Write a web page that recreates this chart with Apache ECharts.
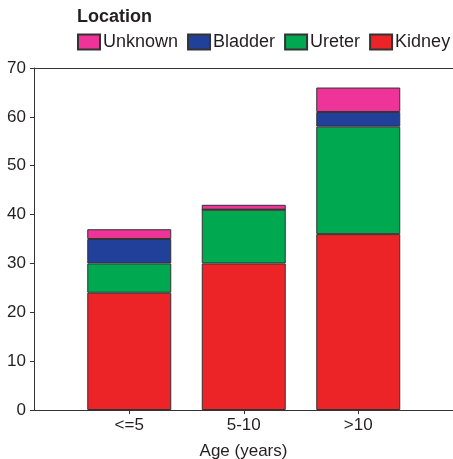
<!DOCTYPE html>
<html><head><meta charset="utf-8">
<script src="https://cdn.jsdelivr.net/npm/echarts@6/dist/echarts.min.js"></script>
<style>html,body{margin:0;padding:0;background:#fff}#c{width:453px;height:459px}</style>
</head><body><div id="c"></div>
<script>
const categories = ['<=5', '5-10', '>10'];
const kidney = [24, 30, 36];
const ureter = [6, 11, 22];
const bladder = [5, 0, 3];
const unknown = [2, 1, 5];
const yTicks = [0, 10, 20, 30, 40, 50, 60, 70];

const font = 'Liberation Sans, Arial, sans-serif';
const txt = '#231f20';
const lineC = '#333';
function mk(name, vals, color) {
  return {
    name, type: 'bar', stack: 'a', barWidth: 84,
    xAxisIndex: 2, yAxisIndex: 1,
    data: vals,
    itemStyle: { color, borderColor: '#333', borderWidth: 1 }
  };
}
const chart = echarts.init(document.getElementById('c'));
chart.setOption({
  animation: false,
  title: { text: 'Location', left: 77, top: 8, padding: 0, textStyle: { fontFamily: font, fontSize: 18, fontWeight: 'bold', color: txt } },
  legend: {
    data: ['Unknown', 'Bladder', 'Ureter', 'Kidney'],
    left: 77, top: 33, padding: 0, width: 600, icon: 'rect', itemWidth: 22, itemHeight: 15, itemGap: 9,
    textStyle: { fontFamily: font, fontSize: 18, color: txt, padding: [0, 0, 0, -2] }
  },
  grid: [
    { left: 34, right: 0, top: 68, bottom: 49, containLabel: false, outerBoundsMode: 'none' },
    { left: 72, width: 343.5, top: 68, bottom: 49, containLabel: false, outerBoundsMode: 'none' }
  ],
  xAxis: [{
    gridIndex: 0, type: 'value', min: 0, max: 1,
    splitLine: { show: false },
    axisLine: { show: true, onZero: false, lineStyle: { color: lineC, width: 1 } },
    axisTick: { show: false }, axisLabel: { show: false },
    name: 'Age (years)', nameLocation: 'middle', nameGap: 33,
    nameTextStyle: { fontFamily: font, fontSize: 17, color: txt }
  }, {
    gridIndex: 0, type: 'value', position: 'top', min: 0, max: 1,
    splitLine: { show: false }, axisTick: { show: false }, axisLabel: { show: false },
    axisLine: { show: true, onZero: false, lineStyle: { color: lineC, width: 1 } }
  }, {
    gridIndex: 1, type: 'category', data: categories,
    axisLine: { show: false },
    axisTick: { show: true, alignWithLabel: true, length: 4, lineStyle: { color: lineC } },
    axisLabel: { fontFamily: font, fontSize: 17, color: txt, margin: 7 }
  }],
  yAxis: [{
    gridIndex: 0, type: 'value', min: 0, max: 70, interval: 10,
    splitLine: { show: false },
    axisLine: { show: true, onZero: false, lineStyle: { color: lineC, width: 1 } },
    axisTick: { show: true, length: 4, lineStyle: { color: lineC } },
    axisLabel: { fontFamily: font, fontSize: 17, color: txt, margin: 8,
      formatter: v => yTicks.includes(v) ? String(v) : '' }
  }, {
    gridIndex: 1, type: 'value', min: 0, max: 70, interval: 10, show: false,
    splitLine: { show: false }
  }],
  series: [
    mk('Kidney', kidney, '#ed2427'),
    mk('Ureter', ureter, '#00a94f'),
    mk('Bladder', bladder, '#21409a'),
    mk('Unknown', unknown, '#ee3399')
  ]
});
</script></body></html>
